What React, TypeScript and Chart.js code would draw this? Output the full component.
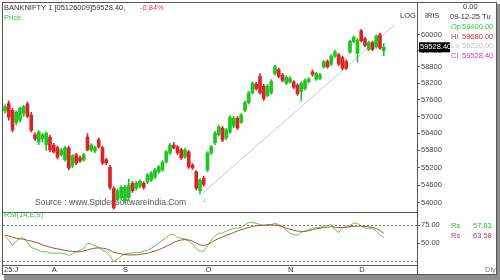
import React, { useEffect, useRef } from "react";
import { Chart, registerables } from "chart.js";
Chart.register(...registerables);

// ---- data ----
const opens = [57200,57460,57221,56800,56870,57100,57450,57050,56350,56100,56200,56000,56270,55990,55900,55650,55470,55890,55260,55640,55540,55470,56270,55820,55780,56170,55890,55470,55220,54480,54130,54170,54060,54170,54660,54490,54560,54660,54700,54770,54870,55050,55120,55400,55710,55990,55920,55820,55570,55750,55290,55050,54410,54830,55120,55710,56060,56350,56590,56240,56450,56660,56940,56800,57220,57500,57850,58170,58450,58100,57750,57850,58550,58700,58500,58200,58250,58250,58130,57900,58000,58270,58620,58350,58380,58800,59000,58900,59200,59250,59150,59000,59350,59750,59300,60150,59850,59450,59700,59550,60000,59400];
const highs = [57420,57560,57300,57200,57350,57400,57520,57150,56420,56500,56400,56450,56330,56050,55950,55860,55950,55950,55650,55700,55600,55700,56400,56040,55950,56230,55950,55520,55280,54550,54460,54580,54600,54800,54720,54720,54780,54720,55000,55060,55170,55280,55440,55800,56050,56080,55980,55870,55870,55800,55340,55100,54820,54900,55760,55980,56470,56680,56650,56580,57030,57000,57000,57110,57560,57910,58260,58230,58550,58160,58160,58330,58860,58760,58560,58480,58440,58300,58180,58250,58360,58410,58680,58600,58560,59040,59060,59260,59420,59300,59200,59060,59800,59950,59860,60200,59900,59760,59760,60000,60060,59680];
const lows = [57120,56870,56450,56700,56800,57000,56950,56450,56150,56000,56100,55800,55750,55700,55500,55600,55420,55120,55200,55300,55380,55420,55780,55760,55720,55880,55300,55300,54450,53780,54050,54100,53990,54100,54350,54420,54500,54450,54650,54720,54820,55000,55070,55350,55650,55850,55660,55480,55520,55170,55140,54430,54300,54560,55050,55650,56000,56300,56110,56180,56400,56600,56530,56750,57160,57440,57800,57950,57800,57580,57700,57800,58500,58400,58250,58150,58200,58000,57760,57560,57950,58220,58460,58300,58330,58750,58750,58850,59150,58850,58700,58700,59300,59700,58975,59720,59550,59400,59400,59500,59450,59220];
const closes = [57350,56975,56519,57150,57290,57350,57000,56500,56200,56450,56350,56400,55820,55750,55560,55820,55890,55190,55610,55360,55430,55640,55820,55990,55900,55920,55360,55360,54520,53820,54410,54520,54520,54590,54410,54660,54730,54520,54940,55010,55120,55220,55390,55750,55990,55890,55710,55540,55820,55220,55190,54490,54770,54620,55710,55920,56410,56620,56170,56520,56970,56940,56590,57050,57500,57850,58200,58000,57850,57640,58100,58270,58800,58450,58300,58420,58380,58060,57820,58200,58300,58350,58520,58550,58500,58980,58800,59200,59360,58900,58750,58750,59750,59900,59800,59780,59600,59700,59450,59950,59500,59528.4];

const rsiValues = [59.7,54,47,53,57,57,51,44,42,40,38,38,36,36,36,36,35,33,35,38,40,43,50,49,46,44,40,38,32,24,28,32,35,36,36,37,37,39,40,43,46,50,54,58,62,62,58,57,56,53,49,42,39,39,46,54,60,64,64,67,69,71,71,72,76,79,79,78,76,75,76,76,78,76,74,68,64,62,61,65,67,69,71,72,72,74,75,76,69,65,71,74,75,78,78,74,71,71,71,67,62,57.83];
const rsiSignal = [61,60,58.5,57,56,55.5,54,53,51.5,50,47.5,46,44.5,43,42,41,40,39,38.5,38,38,39,40.5,42,43,43.5,43,42,40,37,36,35,34,33.5,33.5,33.5,34.5,35,36,37.5,39,41,43,45.5,48,51,53,54.5,55,54.5,53,50,47.5,47,48,51,54,56.5,58.5,61,63,65,67,69,70.5,72,73.5,74.5,75,75,75.5,75.5,75.5,74.5,73,71,69.5,68,67,66.5,66.5,67.5,69,70,71,72,72.5,73,72.5,72,72,72.5,73,73.5,74,74,73.5,73,72,70.5,68,63.58];

const priceTicks = [54000, 54600, 55200, 55800, 56400, 57000, 57600, 58200, 58800, 59400, 60000];
const rsiTicks = [50, 75];
const rsiBands = [75, 25];
const monthStarts = [0, 13, 32, 54, 76, 95];
const monthLabels = ["25:J", "A", "S", "O", "N", "D"];
const trendIdx = [52.5, 104];
const trendPrice = [54300, 60390];

const titleText = "BANKNIFTY 1 [05126009]59528.40,";
const changeText = "-0.84%";
const sourceText = "Source : www.SpiderSoftwareIndia.Com";
const dateText = "09-12-25 Tu";
const ohlcNames = ["Op", "Hi", "Lo", "Cl"];

const GREEN = "#22c422";
const RED = "#d62626";
const FONT = '"Liberation Sans", Arial, sans-serif';

function txt(c: CanvasRenderingContext2D, s: string, x: number, y: number, color: string, size = 8, align: CanvasTextAlign = "left") {
  c.fillStyle = color;
  c.font = `${size}px ${FONT}`;
  c.textAlign = align;
  c.textBaseline = "middle";
  c.fillText(s, x, y);
}
function hline(c: CanvasRenderingContext2D, x1: number, x2: number, y: number) {
  c.beginPath(); c.moveTo(x1, y); c.lineTo(x2, y); c.stroke();
}
function vline(c: CanvasRenderingContext2D, x: number, y1: number, y2: number) {
  c.beginPath(); c.moveTo(x, y1); c.lineTo(x, y2); c.stroke();
}

export default function App() {
  const ref = useRef<HTMLCanvasElement>(null);
  useEffect(() => {
    document.body.style.margin = "0";
    const canvas = ref.current!;
    Chart.defaults.font.family = FONT;
    const colors = opens.map((o, i) => (closes[i] >= o ? GREEN : RED));
    const wickData = opens.map((_, i) => ({ x: i, y: [lows[i], highs[i]] }));
    const bodyData = opens.map((o, i) => ({ x: i, y: [o, closes[i]] }));
    const trendData = trendIdx.map((x, i) => ({ x, y: trendPrice[i] }));
    const rsiData = rsiValues.map((v, i) => ({ x: i, y: v }));
    const sigData = rsiSignal.map((v, i) => ({ x: i, y: v }));
    const last = opens.length - 1;

    const deco = {
      id: "deco",
      beforeDraw(chart: any) {
        const c = chart.ctx as CanvasRenderingContext2D;
        c.save();
        c.fillStyle = "#ffffff";
        c.fillRect(0, 0, 500, 280);
        c.fillStyle = "#8e8e8e";
        c.fillRect(4, 275, 496, 5);
        c.fillRect(497, 4, 3, 276);
        c.restore();
      },
      beforeDatasetsDraw(chart: any) {
        const c = chart.ctx as CanvasRenderingContext2D;
        const a = chart.chartArea;
        const y2 = chart.scales.y2;
        c.save();
        txt(c, sourceText, 35, 203, "#555", 8.5);
        txt(c, "1", 203, 200, "#aaa", 6);
        c.strokeStyle = "#777";
        c.lineWidth = 1;
        c.setLineDash([2, 2]);
        rsiBands.forEach((v) => hline(c, a.left, a.right, Math.round(y2.getPixelForValue(v)) + 0.5));
        c.setLineDash([]);
        c.restore();
      },
      afterDraw(chart: any) {
        const c = chart.ctx as CanvasRenderingContext2D;
        const a = chart.chartArea;
        const xs = chart.scales.x;
        const ys = chart.scales.y;
        const y2 = chart.scales.y2;
        c.save();
        // frame
        c.strokeStyle = "#555";
        c.lineWidth = 1;
        hline(c, 2, 497, 2.5);
        vline(c, 2.5, 2, 274);
        vline(c, 496.5, 2, 274);
        hline(c, 2, 497, 274.5);
        vline(c, a.right + 0.5, 2, 274);
        hline(c, a.left, a.right, Math.round(y2.top) + 0.5);
        hline(c, a.left, a.right, a.bottom + 0.5);
        // title
        txt(c, titleText, 4, 8, "#333", 7.5);
        txt(c, changeText, 140, 8, "#d04040", 7.5);
        txt(c, "Price", 4, 18, "#33cc33", 7.5);
        txt(c, "RSI(14,E,9)", 4, 215, "#33bb33", 7.5);
        txt(c, "LOG", 400, 16, "#333", 7.5);
        // month labels
        monthLabels.forEach((m, i) => {
          const x = Math.max(4, xs.getPixelForValue(monthStarts[i]) - 2);
          txt(c, m, x, 269.5, "#333", 7.5);
        });
        txt(c, "Dly", 485, 270, "#777", 7.5);
        // right panel
        c.beginPath();
        c.rect(a.right + 1, 0, 496 - a.right - 1, 280);
        c.clip();
        txt(c, "IRIS", 425, 16, "#333", 7.5);
        txt(c, "0.00", 463, 7, "#333", 7.5);
        txt(c, dateText, 450, 17, "#333", 7.5);
        const ohlc = [opens[last], highs[last], lows[last], closes[last]];
        const ohlcColors = ["#2fcf2f", "#d83030", "#c4c4c4", "#c040c0"];
        ohlc.forEach((v, i) => {
          const yy = 27 + i * 9.7;
          txt(c, ohlcNames[i], 451, yy, ohlcColors[i], 7.5);
          txt(c, v.toFixed(2), 462, yy, ohlcColors[i], 7.5);
        });
        const by = ys.getPixelForValue(closes[last]);
        c.fillStyle = "#000";
        c.fillRect(a.right + 2, by - 5, 31, 10);
        c.save();
        c.beginPath();
        c.rect(a.right + 2, by - 5, 31, 10);
        c.clip();
        txt(c, closes[last].toFixed(2), a.right + 3, by, "#fff", 7.5);
        c.restore();
        const ry = y2.getPixelForValue(75) + 1;
        txt(c, "Rs", 451, ry, "#33bb33", 7.5);
        txt(c, rsiValues[last].toFixed(2), 473, ry, "#33bb33", 7.5);
        txt(c, "Rs", 451, ry + 10, "#c04040", 7.5);
        txt(c, rsiSignal[last].toFixed(2), 473, ry + 10, "#c04040", 7.5);
        c.restore();
      },
    };

    const chart = new Chart(canvas, {
      type: "bar",
      data: {
        datasets: [
          { type: "bar", data: wickData as any, backgroundColor: colors, barThickness: 1, grouped: false, yAxisID: "y", order: 2 } as any,
          { type: "bar", data: bodyData as any, backgroundColor: colors, barThickness: 3, grouped: false, minBarLength: 1, yAxisID: "y", order: 1 } as any,
          { type: "line", data: trendData, borderColor: "#c8c8c8", borderWidth: 1, pointRadius: 0, yAxisID: "y", order: 3 } as any,
          { type: "line", data: sigData, borderColor: "#b84a3c", borderWidth: 1, pointRadius: 0, yAxisID: "y2", order: 0 } as any,
          { type: "line", data: rsiData, borderColor: "#55cc55", borderWidth: 1, pointRadius: 0, yAxisID: "y2", order: 0 } as any,
        ],
      },
      options: {
        animation: false,
        responsive: false,
        layout: { padding: { left: 3, top: 3, right: 3, bottom: 15 } },
        plugins: { legend: { display: false }, tooltip: { enabled: false } },
        scales: {
          x: { type: "linear", min: -0.53, max: 109.87, offset: false, display: false },
          y: {
            type: "logarithmic",
            position: "right",
            stack: "main",
            stackWeight: 208,
            min: 53700,
            max: 61110,
            afterFit: (s: any) => { s.width = 80; },
            afterBuildTicks: (s: any) => { s.ticks = priceTicks.map((v) => ({ value: v })); },
            ticks: { callback: (v: any) => String(v), font: { size: 7.5 }, color: "#444", padding: 1, autoSkip: false },
            grid: { drawOnChartArea: false, drawTicks: true, tickLength: 3, color: "#555" },
            border: { color: "#555", width: 1 },
          } as any,
          y2: {
            type: "linear",
            position: "right",
            stack: "main",
            stackWeight: 54,
            min: 19.4,
            max: 94.4,
            afterFit: (s: any) => { s.width = 80; },
            afterBuildTicks: (s: any) => { s.ticks = rsiTicks.map((v) => ({ value: v })); },
            ticks: { callback: (v: any) => Number(v).toFixed(2), font: { size: 7.5 }, color: "#444", padding: 1, autoSkip: false },
            grid: { drawOnChartArea: false, drawTicks: true, tickLength: 3, color: "#555" },
            border: { color: "#555", width: 1 },
          } as any,
        },
      },
      plugins: [deco],
    });
    return () => chart.destroy();
  }, []);
  return (
    <div style={{ position: "fixed", left: 0, top: 0, width: 500, height: 280, background: "#fff" }}>
      <canvas ref={ref} width={500} height={280} style={{ display: "block" }} />
    </div>
  );
}
